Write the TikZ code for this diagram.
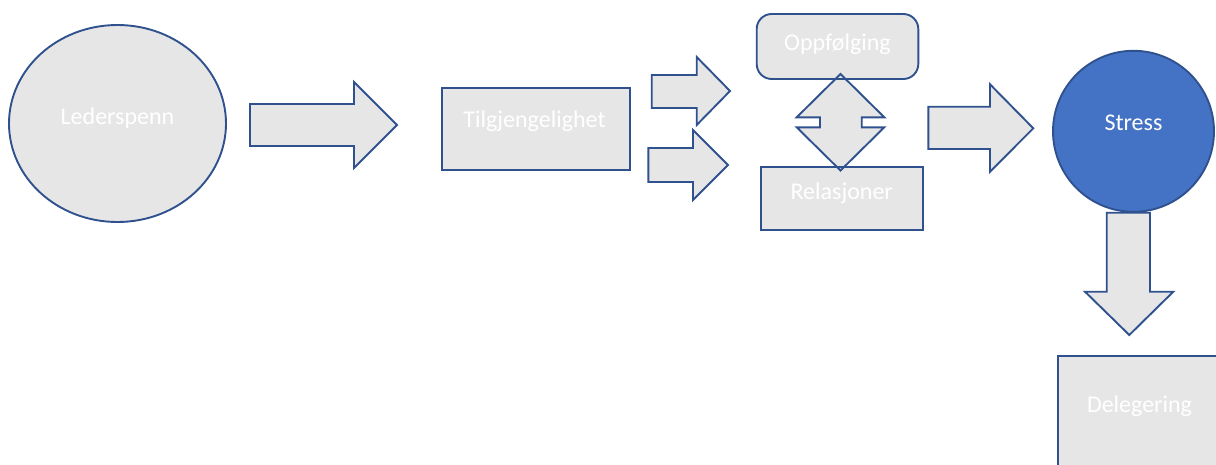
\documentclass[tikz,border=0pt]{standalone}
\usepackage{fontspec}
\setmainfont{Carlito}
\usetikzlibrary{shapes.geometric}
\definecolor{boxfill}{HTML}{E7E6E6}
\definecolor{edgeblue}{HTML}{2F528F}
\definecolor{stressblue}{HTML}{4472C4}
\begin{document}
\begin{tikzpicture}[x=1pt,y=-1pt,
  shp/.style={draw=edgeblue,fill=boxfill,line width=1.9pt,inner sep=0pt,outer sep=0pt},
  blk/.style={draw=edgeblue,fill=boxfill,line width=1.9pt,line join=miter},
  lbl/.style={text=white,font=\fontsize{24}{28}\selectfont,anchor=base,inner sep=0pt}]
\clip (0,0) rectangle (1216,464);
% shapes
\node[shp,ellipse,minimum width=217pt,minimum height=197pt] (leder) at (117.5,123.5) {};
\node[shp,rectangle,minimum width=188.3pt,minimum height=81.7pt] (tilg) at (535.8,129.2) {};
\node[shp,rectangle,rounded corners=15pt,minimum width=161.6pt,minimum height=65pt] (oppf) at (837.5,46.5) {};
\node[shp,rectangle,minimum width=162pt,minimum height=63.3pt] (rel) at (841.7,198.3) {};
\node[shp,circle,fill=stressblue,minimum size=161pt] (stress) at (1133.5,131.3) {};
\node[shp,rectangle,minimum width=180pt,minimum height=130pt,anchor=north west] (deleg) at (1058.3,355.7) {};
% block arrows
\draw[blk] (250,104) -- (354,104) -- (354,82) -- (397,125) -- (354,168) -- (354,146) -- (250,146) -- cycle;
\draw[blk] (651.7,75) -- (696.7,75) -- (696.7,57) -- (730,91) -- (696.7,125) -- (696.7,108) -- (651.7,108) -- cycle;
\draw[blk] (648.3,148) -- (693,148) -- (693,130) -- (728,165) -- (693,200) -- (693,182) -- (648.3,182) -- cycle;
\draw[blk] (928.3,106.7) -- (990,106.7) -- (990,84.3) -- (1033.3,128.3) -- (990,171.7) -- (990,149) -- (928.3,149) -- cycle;
\draw[blk] (1106.7,212.7) -- (1150,212.7) -- (1150,291.7) -- (1173.3,291.7) -- (1129.3,335) -- (1085,291.7) -- (1106.7,291.7) -- cycle;
\draw[blk] (840.5,74) -- (884.3,117.3) -- (861.7,117.3) -- (861.7,127.3) -- (884.3,127.3) -- (840.5,170.5) -- (796.7,127.3) -- (820,127.3) -- (820,117.3) -- (796.7,117.3) -- cycle;
% borders seen through the double arrow
\draw[edgeblue,line width=1.9pt] (800,79.2) -- (880,79.2);
\draw[edgeblue,line width=1.9pt] (800,166.6) -- (880,166.6);
% labels
\node[lbl] (tleder) at (117.5,124) {Lederspenn};
\node[lbl] (ttilg) at (534.5,127) {Tilgjengelighet};
\node[lbl] (toppf) at (837.5,50) {Oppfølging};
\node[lbl] (trel) at (841.7,199) {Relasjoner};
\node[lbl] (tstress) at (1133.5,130.7) {Stress};
\node[lbl] (tdeleg) at (1139.5,412) {Delegering};
\end{tikzpicture}
\end{document}
